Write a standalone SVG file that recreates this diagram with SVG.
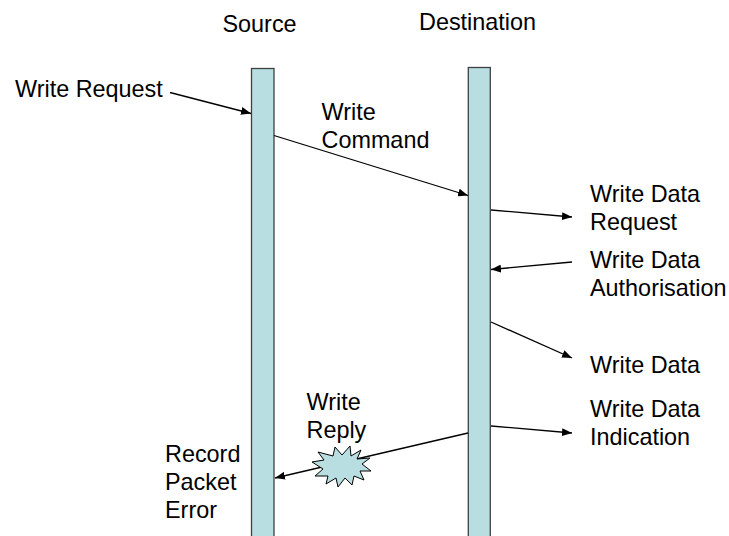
<svg xmlns="http://www.w3.org/2000/svg" width="729" height="536" viewBox="0 0 729 536">
<defs>
<style>
text{font-family:"Liberation Sans",Arial,sans-serif;font-size:23.4px;fill:#000}
.bar{fill:#B8DEE1;stroke:#404040;stroke-width:1.3}
.conn line{stroke:#000;stroke-width:1.3;marker-end:url(#ah)}
</style>
<marker id="ah" viewBox="0 0 10 8" refX="10" refY="4" markerWidth="10" markerHeight="8" markerUnits="userSpaceOnUse" orient="auto">
<path d="M0,0 L10,4 L0,8 z" fill="#000"/>
</marker>
</defs>
<rect width="729" height="536" fill="#fff"/>
<g id="source">
<rect class="bar" x="251.5" y="68.5" width="22.5" height="480"/>
<text x="222.5" y="32">Source</text>
</g>
<g id="destination">
<rect class="bar" x="468.3" y="67.5" width="22" height="480"/>
<text x="419" y="30">Destination</text>
</g>
<g class="conn" id="connectors">
<line x1="170" y1="92.5" x2="251" y2="113.5"/>
<line x1="274" y1="135.5" x2="468" y2="195.5"/>
<line x1="491" y1="210" x2="572" y2="217"/>
<line x1="572" y1="262" x2="491" y2="269.5"/>
<line x1="491" y1="322" x2="572" y2="358"/>
<line x1="491" y1="426" x2="572" y2="433"/>
<line x1="468" y1="433" x2="275" y2="478"/>
</g>
<g id="starburst">
<polygon fill="#B8DEE1" stroke="#000" stroke-width="1" points="312,462 324,460 318,452 333,456 335,447 342,455 350,446 351,456 361,450 357,459 370,458 362,464 371,471 360,471 364,480 354,476 352,485 345,478 338,487 336,478 326,484 328,476 315,476 323,469"/>
</g>
<g id="labels">
<text x="15" y="97">Write Request</text>
<text x="321.5" y="120">Write</text>
<text x="321.5" y="148">Command</text>
<text x="590" y="201.5">Write Data</text>
<text x="590" y="230">Request</text>
<text x="590" y="268">Write Data</text>
<text x="590" y="296">Authorisation</text>
<text x="590" y="372.5">Write Data</text>
<text x="590" y="416.5">Write Data</text>
<text x="590" y="444.5">Indication</text>
<text x="306.5" y="410">Write</text>
<text x="306.5" y="437.5">Reply</text>
<text x="165" y="461.5">Record</text>
<text x="165" y="490">Packet</text>
<text x="165" y="518">Error</text>
</g>
</svg>
